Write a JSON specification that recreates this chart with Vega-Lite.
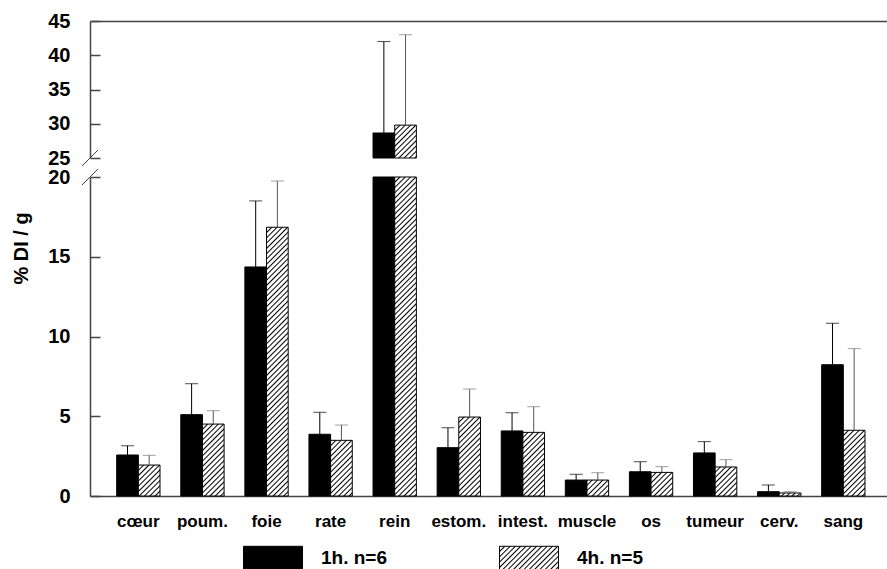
{
  "$schema": "https://vega.github.io/schema/vega-lite/v6.json",
  "autosize": {"type": "pad"},
  "padding": {"left": 11, "top": 11, "right": 0, "bottom": 0},
  "params": [
    {"name": "hs", "value": [
      {"offset":0,"color":"#000"},{"offset":0.004,"color":"#fff"},{"offset":0.011,"color":"#fff"},
      {"offset":0.015,"color":"#000"},{"offset":0.019,"color":"#fff"},{"offset":0.026,"color":"#fff"},
      {"offset":0.03,"color":"#000"},{"offset":0.034,"color":"#fff"},{"offset":0.041,"color":"#fff"},
      {"offset":0.045,"color":"#000"},{"offset":0.049,"color":"#fff"},{"offset":0.056,"color":"#fff"},
      {"offset":0.06,"color":"#000"},{"offset":0.064,"color":"#fff"},{"offset":0.071,"color":"#fff"},
      {"offset":0.075,"color":"#000"},{"offset":0.079,"color":"#fff"},{"offset":0.086,"color":"#fff"},
      {"offset":0.09,"color":"#000"},{"offset":0.094,"color":"#fff"},{"offset":0.101,"color":"#fff"},
      {"offset":0.105,"color":"#000"},{"offset":0.109,"color":"#fff"},{"offset":0.116,"color":"#fff"},
      {"offset":0.12,"color":"#000"},{"offset":0.124,"color":"#fff"},{"offset":0.131,"color":"#fff"},
      {"offset":0.135,"color":"#000"},{"offset":0.139,"color":"#fff"},{"offset":0.146,"color":"#fff"},
      {"offset":0.15,"color":"#000"},{"offset":0.154,"color":"#fff"},{"offset":0.161,"color":"#fff"},
      {"offset":0.165,"color":"#000"},{"offset":0.169,"color":"#fff"},{"offset":0.176,"color":"#fff"},
      {"offset":0.18,"color":"#000"},{"offset":0.184,"color":"#fff"},{"offset":0.191,"color":"#fff"},
      {"offset":0.195,"color":"#000"},{"offset":0.199,"color":"#fff"},{"offset":0.206,"color":"#fff"},
      {"offset":0.21,"color":"#000"},{"offset":0.214,"color":"#fff"},{"offset":0.221,"color":"#fff"},
      {"offset":0.225,"color":"#000"},{"offset":0.229,"color":"#fff"},{"offset":0.236,"color":"#fff"},
      {"offset":0.24,"color":"#000"},{"offset":0.244,"color":"#fff"},{"offset":0.251,"color":"#fff"},
      {"offset":0.255,"color":"#000"},{"offset":0.259,"color":"#fff"},{"offset":0.266,"color":"#fff"},
      {"offset":0.27,"color":"#000"},{"offset":0.274,"color":"#fff"},{"offset":0.281,"color":"#fff"},
      {"offset":0.285,"color":"#000"},{"offset":0.289,"color":"#fff"},{"offset":0.296,"color":"#fff"},
      {"offset":0.3,"color":"#000"},{"offset":0.304,"color":"#fff"},{"offset":0.311,"color":"#fff"},
      {"offset":0.315,"color":"#000"},{"offset":0.319,"color":"#fff"},{"offset":0.326,"color":"#fff"},
      {"offset":0.33,"color":"#000"},{"offset":0.334,"color":"#fff"},{"offset":0.341,"color":"#fff"},
      {"offset":0.345,"color":"#000"},{"offset":0.349,"color":"#fff"},{"offset":0.356,"color":"#fff"},
      {"offset":0.36,"color":"#000"},{"offset":0.364,"color":"#fff"},{"offset":0.371,"color":"#fff"},
      {"offset":0.375,"color":"#000"},{"offset":0.379,"color":"#fff"},{"offset":0.386,"color":"#fff"},
      {"offset":0.39,"color":"#000"},{"offset":0.394,"color":"#fff"},{"offset":0.401,"color":"#fff"},
      {"offset":0.405,"color":"#000"},{"offset":0.409,"color":"#fff"},{"offset":0.416,"color":"#fff"},
      {"offset":0.42,"color":"#000"},{"offset":0.424,"color":"#fff"},{"offset":0.431,"color":"#fff"},
      {"offset":0.435,"color":"#000"},{"offset":0.439,"color":"#fff"},{"offset":0.446,"color":"#fff"},
      {"offset":0.45,"color":"#000"},{"offset":0.454,"color":"#fff"},{"offset":0.461,"color":"#fff"},
      {"offset":0.465,"color":"#000"},{"offset":0.469,"color":"#fff"},{"offset":0.476,"color":"#fff"},
      {"offset":0.48,"color":"#000"},{"offset":0.484,"color":"#fff"},{"offset":0.491,"color":"#fff"},
      {"offset":0.495,"color":"#000"},{"offset":0.499,"color":"#fff"},{"offset":0.506,"color":"#fff"},
      {"offset":0.51,"color":"#000"},{"offset":0.514,"color":"#fff"},{"offset":0.521,"color":"#fff"},
      {"offset":0.525,"color":"#000"},{"offset":0.529,"color":"#fff"},{"offset":0.536,"color":"#fff"},
      {"offset":0.54,"color":"#000"},{"offset":0.544,"color":"#fff"},{"offset":0.551,"color":"#fff"},
      {"offset":0.555,"color":"#000"},{"offset":0.559,"color":"#fff"},{"offset":0.566,"color":"#fff"},
      {"offset":0.57,"color":"#000"},{"offset":0.574,"color":"#fff"},{"offset":0.581,"color":"#fff"},
      {"offset":0.585,"color":"#000"},{"offset":0.589,"color":"#fff"},{"offset":0.596,"color":"#fff"},
      {"offset":0.6,"color":"#000"},{"offset":0.604,"color":"#fff"},{"offset":0.611,"color":"#fff"},
      {"offset":0.615,"color":"#000"},{"offset":0.619,"color":"#fff"},{"offset":0.626,"color":"#fff"},
      {"offset":0.63,"color":"#000"},{"offset":0.634,"color":"#fff"},{"offset":0.641,"color":"#fff"},
      {"offset":0.645,"color":"#000"},{"offset":0.649,"color":"#fff"},{"offset":0.656,"color":"#fff"},
      {"offset":0.66,"color":"#000"},{"offset":0.664,"color":"#fff"},{"offset":0.671,"color":"#fff"},
      {"offset":0.675,"color":"#000"},{"offset":0.679,"color":"#fff"},{"offset":0.686,"color":"#fff"},
      {"offset":0.69,"color":"#000"},{"offset":0.694,"color":"#fff"},{"offset":0.701,"color":"#fff"},
      {"offset":0.705,"color":"#000"},{"offset":0.709,"color":"#fff"},{"offset":0.716,"color":"#fff"},
      {"offset":0.72,"color":"#000"},{"offset":0.724,"color":"#fff"},{"offset":0.731,"color":"#fff"},
      {"offset":0.735,"color":"#000"},{"offset":0.739,"color":"#fff"},{"offset":0.746,"color":"#fff"},
      {"offset":0.75,"color":"#000"},{"offset":0.754,"color":"#fff"},{"offset":0.761,"color":"#fff"},
      {"offset":0.765,"color":"#000"},{"offset":0.769,"color":"#fff"},{"offset":0.776,"color":"#fff"},
      {"offset":0.78,"color":"#000"},{"offset":0.784,"color":"#fff"},{"offset":0.791,"color":"#fff"},
      {"offset":0.795,"color":"#000"},{"offset":0.799,"color":"#fff"},{"offset":0.806,"color":"#fff"},
      {"offset":0.81,"color":"#000"},{"offset":0.814,"color":"#fff"},{"offset":0.821,"color":"#fff"},
      {"offset":0.825,"color":"#000"},{"offset":0.829,"color":"#fff"},{"offset":0.836,"color":"#fff"},
      {"offset":0.84,"color":"#000"},{"offset":0.844,"color":"#fff"},{"offset":0.851,"color":"#fff"},
      {"offset":0.855,"color":"#000"},{"offset":0.859,"color":"#fff"},{"offset":0.866,"color":"#fff"},
      {"offset":0.87,"color":"#000"},{"offset":0.874,"color":"#fff"},{"offset":0.881,"color":"#fff"},
      {"offset":0.885,"color":"#000"},{"offset":0.889,"color":"#fff"},{"offset":0.896,"color":"#fff"},
      {"offset":0.9,"color":"#000"},{"offset":0.904,"color":"#fff"},{"offset":0.911,"color":"#fff"},
      {"offset":0.915,"color":"#000"},{"offset":0.919,"color":"#fff"},{"offset":0.926,"color":"#fff"},
      {"offset":0.93,"color":"#000"},{"offset":0.934,"color":"#fff"},{"offset":0.941,"color":"#fff"},
      {"offset":0.945,"color":"#000"},{"offset":0.949,"color":"#fff"},{"offset":0.956,"color":"#fff"},
      {"offset":0.96,"color":"#000"},{"offset":0.964,"color":"#fff"},{"offset":0.971,"color":"#fff"},
      {"offset":0.975,"color":"#000"},{"offset":0.979,"color":"#fff"},{"offset":0.986,"color":"#fff"},
      {"offset":0.99,"color":"#000"},{"offset":0.994,"color":"#fff"},{"offset":1,"color":"#fff"}
    ]}
  ],
  "datasets": {
    "d": [
      {"organ": "cœur", "time": "1h. n=6", "value": 2.57, "hi": 3.15},
      {"organ": "cœur", "time": "4h. n=5", "value": 1.94, "hi": 2.55},
      {"organ": "poum.", "time": "1h. n=6", "value": 5.1, "hi": 7.04},
      {"organ": "poum.", "time": "4h. n=5", "value": 4.51, "hi": 5.35},
      {"organ": "foie", "time": "1h. n=6", "value": 14.36, "hi": 18.5},
      {"organ": "foie", "time": "4h. n=5", "value": 16.85, "hi": 19.75},
      {"organ": "rate", "time": "1h. n=6", "value": 3.87, "hi": 5.25},
      {"organ": "rate", "time": "4h. n=5", "value": 3.49, "hi": 4.45},
      {"organ": "rein", "time": "1h. n=6", "value": 28.65, "hi": 42.0},
      {"organ": "rein", "time": "4h. n=5", "value": 29.8, "hi": 43.0},
      {"organ": "estom.", "time": "1h. n=6", "value": 3.03, "hi": 4.28},
      {"organ": "estom.", "time": "4h. n=5", "value": 4.95, "hi": 6.71},
      {"organ": "intest.", "time": "1h. n=6", "value": 4.08, "hi": 5.22},
      {"organ": "intest.", "time": "4h. n=5", "value": 3.99, "hi": 5.6},
      {"organ": "muscle", "time": "1h. n=6", "value": 1.0, "hi": 1.36},
      {"organ": "muscle", "time": "4h. n=5", "value": 1.0, "hi": 1.46},
      {"organ": "os", "time": "1h. n=6", "value": 1.52, "hi": 2.15},
      {"organ": "os", "time": "4h. n=5", "value": 1.48, "hi": 1.84},
      {"organ": "tumeur", "time": "1h. n=6", "value": 2.7, "hi": 3.41},
      {"organ": "tumeur", "time": "4h. n=5", "value": 1.82, "hi": 2.28},
      {"organ": "cerv.", "time": "1h. n=6", "value": 0.27, "hi": 0.69},
      {"organ": "cerv.", "time": "4h. n=5", "value": 0.19, "hi": 0.27},
      {"organ": "sang", "time": "1h. n=6", "value": 8.23, "hi": 10.83},
      {"organ": "sang", "time": "4h. n=5", "value": 4.12, "hi": 9.24}
    ]
  },
  "data": {"name": "d"},
  "spacing": 19,
  "bounds": "flush",
  "resolve": {"scale": {"x": "independent", "y": "independent"}},
  "vconcat": [
    {
      "width": 797,
      "height": 137,
      "layer": [
        {
          "transform": [{"filter": "datum.organ === 'rein'"}],
          "mark": {
            "type": "bar", "stroke": "#000", "strokeWidth": 1,
            "fill": {"expr": "datum.time === '1h. n=6' ? '#000' : {gradient: 'linear', x1: 0, y1: 0, x2: 21.66*353/(469.2+pow((datum.value-25)*6.85,2)), y2: (datum.value-25)*6.85*353/(469.2+pow((datum.value-25)*6.85,2)), stops: hs}"}
          },
          "encoding": {
            "x": {"field": "organ", "type": "nominal",
              "scale": {"domain": ["cœur","poum.","foie","rate","rein","estom.","intest.","muscle","os","tumeur","cerv.","sang"], "paddingInner": 0.324, "paddingOuter": 0.38, "align": 0.548},
              "axis": {"orient": "top", "labels": false, "ticks": false, "title": null}},
            "xOffset": {"field": "time", "type": "nominal", "scale": {"domain": ["1h. n=6","4h. n=5"], "paddingInner": 0, "paddingOuter": 0}},
            "y": {"field": "value", "type": "quantitative",
              "scale": {"domain": [25, 45], "clamp": true, "nice": false, "zero": false},
              "axis": {"values": [25, 30, 35, 40, 45], "tickCount": 5, "title": null, "labelOverlap": false}},
            "y2": {"datum": 25}
          }
        },
        {
          "transform": [{"filter": "datum.organ === 'rein'"}],
          "mark": {"type": "rule", "strokeWidth": 1},
          "encoding": {
            "x": {"field": "organ", "type": "nominal"},
            "xOffset": {"field": "time", "type": "nominal"},
            "y": {"field": "value", "type": "quantitative"},
            "y2": {"field": "hi"},
            "color": {"condition": {"test": "datum.time === '1h. n=6'", "value": "#000"}, "value": "#555"}
          }
        },
        {
          "transform": [{"filter": "datum.organ === 'rein'"}],
          "mark": {"type": "tick", "size": 13, "thickness": 1},
          "encoding": {
            "x": {"field": "organ", "type": "nominal"},
            "xOffset": {"field": "time", "type": "nominal"},
            "y": {"field": "hi", "type": "quantitative"},
            "color": {"condition": {"test": "datum.time === '1h. n=6'", "value": "#000"}, "value": "#777"}
          }
        },
        {
          "data": {"values": [{}]},
          "mark": {"type": "point", "shape": "M-1,1L1,-1", "size": 256, "filled": false, "stroke": "#444", "strokeWidth": 1, "opacity": 1},
          "encoding": {"x": {"value": 0}, "y": {"datum": 25}}
        }
      ]
    },
    {
      "width": 797,
      "height": 319,
      "layer": [
        {
          "mark": {"type": "bar", "stroke": "#000", "strokeWidth": 1},
          "encoding": {
            "x": {"field": "organ", "type": "nominal",
              "scale": {"domain": ["cœur","poum.","foie","rate","rein","estom.","intest.","muscle","os","tumeur","cerv.","sang"], "paddingInner": 0.324, "paddingOuter": 0.38, "align": 0.548},
              "axis": {"orient": "bottom", "title": null}},
            "xOffset": {"field": "time", "type": "nominal", "scale": {"domain": ["1h. n=6","4h. n=5"], "paddingInner": 0, "paddingOuter": 0}},
            "y": {"field": "value", "type": "quantitative",
              "scale": {"domain": [0, 20], "clamp": true, "nice": false},
              "axis": {"values": [0, 5, 10, 15, 20], "title": "% DI / g", "labelOverlap": false, "titleX": -69, "titleY": 71, "titleAngle": -90, "titleAlign": "center", "titleBaseline": "middle", "titleFontSize": 20}},
            "fill": {
              "field": "time", "type": "nominal",
              "scale": {"domain": ["1h. n=6","4h. n=5"], "range": ["#000", {"expr": "{gradient: 'linear', x1: 0, y1: 0, x2: 5.158, y2: 2.063, stops: hs}"}]},
              "condition": {"test": "datum.time === '4h. n=5'", "value": {"expr": "{gradient: 'linear', x1: 0, y1: 0, x2: 21.66*353/(469.2+pow(min(datum.value,20)*15.95,2)), y2: min(datum.value,20)*15.95*353/(469.2+pow(min(datum.value,20)*15.95,2)), stops: hs}"}},
              "legend": {
                "orient": "none", "legendX": 153, "legendY": 507, "direction": "horizontal", "title": null,
                "symbolType": "M-1,-0.4H1V0.4H-1Z", "symbolSize": 3481,
                "symbolStrokeColor": "#000", "symbolStrokeWidth": 1,
                "labelFont": "Liberation Sans", "labelFontWeight": "bold", "labelFontSize": 19, "labelColor": "#000",
                "labelOffset": 18, "columnPadding": 110
              }
            }
          }
        },
        {
          "transform": [{"filter": "datum.hi <= 20"}],
          "mark": {"type": "rule", "strokeWidth": 1},
          "encoding": {
            "x": {"field": "organ", "type": "nominal"},
            "xOffset": {"field": "time", "type": "nominal"},
            "y": {"field": "value", "type": "quantitative"},
            "y2": {"field": "hi"},
            "color": {"condition": {"test": "datum.time === '1h. n=6'", "value": "#000"}, "value": "#555"}
          }
        },
        {
          "transform": [{"filter": "datum.hi <= 20"}],
          "mark": {"type": "tick", "size": 13, "thickness": 1},
          "encoding": {
            "x": {"field": "organ", "type": "nominal"},
            "xOffset": {"field": "time", "type": "nominal"},
            "y": {"field": "hi", "type": "quantitative"},
            "color": {"condition": {"test": "datum.time === '1h. n=6'", "value": "#000"}, "value": "#777"}
          }
        },
        {
          "data": {"values": [{}]},
          "mark": {"type": "point", "shape": "M-1,1L1,-1", "size": 256, "filled": false, "stroke": "#444", "strokeWidth": 1, "opacity": 1},
          "encoding": {"x": {"value": 0}, "y": {"datum": 20}}
        }
      ]
    }
  ],
  "config": {
    "view": {"stroke": null},
    "font": "Liberation Sans",
    "axis": {
      "grid": false, "domainColor": "#444", "domainWidth": 1.5, "tickColor": "#444", "tickWidth": 1.5,
      "labelColor": "#000", "labelFont": "Liberation Sans", "labelFontWeight": "bold",
      "titleFont": "Liberation Sans", "titleFontWeight": "bold", "titleColor": "#000"
    },
    "axisY": {"tickSize": -10, "labelPadding": 30, "labelFontSize": 20, "labelOverlap": false},
    "axisX": {"labelFontSize": 17, "ticks": false, "labelPadding": 17, "labelAngle": 0}
  }
}
